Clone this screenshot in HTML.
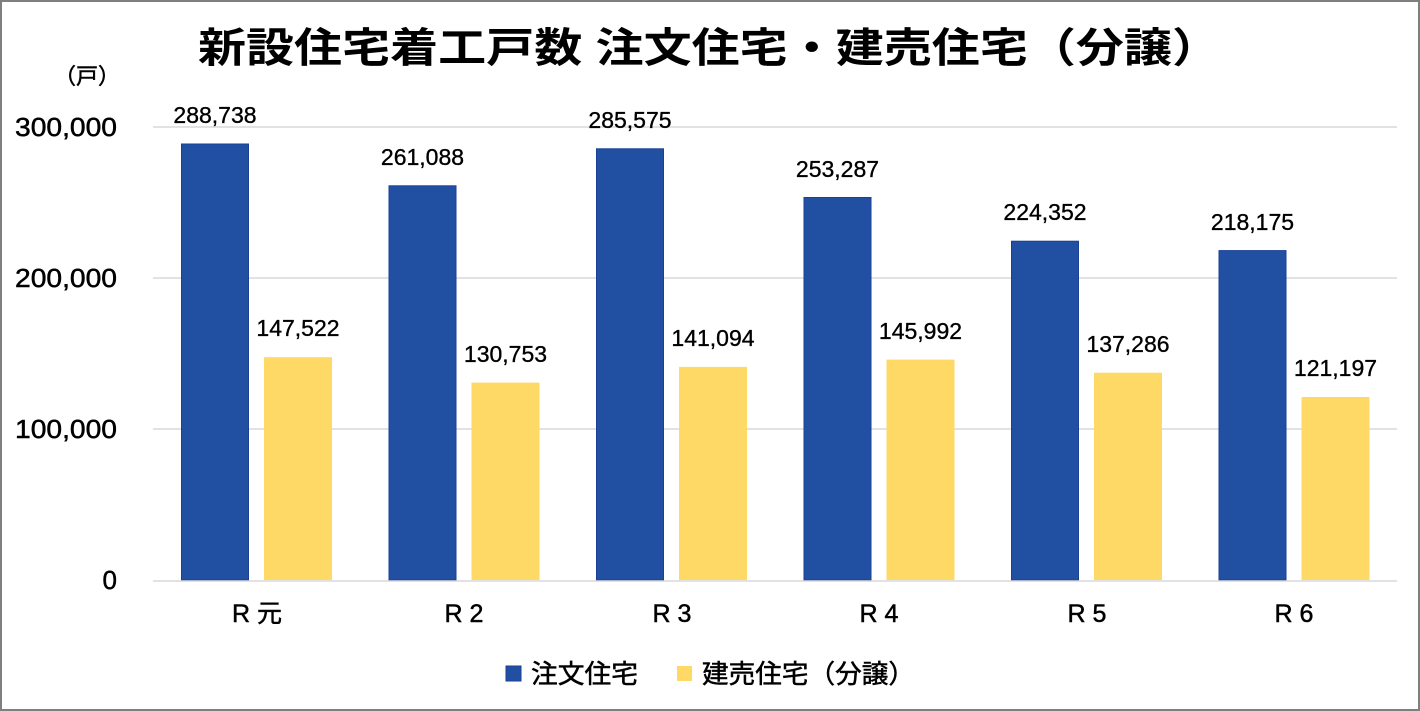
<!DOCTYPE html>
<html><head><meta charset="utf-8"><style>
html,body{margin:0;padding:0;background:#fff}
svg{display:block}
text{font-family:"Liberation Sans","Noto Sans CJK JP",sans-serif;fill:#000}
.t{stroke:#000;stroke-width:0.5}
</style></head><body>
<svg width="1420" height="711" viewBox="0 0 1420 711" xmlns="http://www.w3.org/2000/svg">
<rect x="1" y="1" width="1418" height="709" fill="#fff" stroke="#7f7f7f" stroke-width="2"/>
<text x="709" y="62" font-size="41" font-weight="bold" text-anchor="middle" textLength="1022" lengthAdjust="spacingAndGlyphs">新設住宅着工戸数 注文住宅・建売住宅（分譲）</text>
<text x="120" y="84" font-size="22" text-anchor="end" class="t">（戸）</text>
<g stroke="#d9d9d9" stroke-width="1.5">
<line x1="153" y1="127" x2="1397" y2="127"/>
<line x1="153" y1="278" x2="1397" y2="278"/>
<line x1="153" y1="429" x2="1397" y2="429"/>
</g>
<g font-size="26" text-anchor="end" class="t">
<text x="117" y="136" textLength="102" lengthAdjust="spacingAndGlyphs">300,000</text>
<text x="117" y="287" textLength="102" lengthAdjust="spacingAndGlyphs">200,000</text>
<text x="117" y="438" textLength="102" lengthAdjust="spacingAndGlyphs">100,000</text>
<text x="117" y="589">0</text>
</g>
<g fill="#2150A3" stroke="#1a3f99" stroke-width="1">
<rect x="181.5" y="144" width="67" height="436"/>
<rect x="389" y="185.8" width="67" height="394.2"/>
<rect x="596.5" y="148.8" width="67" height="431.2"/>
<rect x="804" y="197.5" width="67" height="382.5"/>
<rect x="1011.5" y="241.2" width="67" height="338.8"/>
<rect x="1219" y="250.6" width="67" height="329.4"/>
</g>
<g fill="#FFD966">
<rect x="264" y="357.2" width="68" height="222.8"/>
<rect x="471.5" y="382.6" width="68" height="197.4"/>
<rect x="679" y="366.9" width="68" height="213.1"/>
<rect x="886.5" y="359.6" width="68" height="220.4"/>
<rect x="1094" y="372.7" width="68" height="207.3"/>
<rect x="1301.5" y="397" width="68" height="183"/>
</g>
<line x1="153" y1="581" x2="1397" y2="581" stroke="#d9d9d9" stroke-width="1.5"/>
<g font-size="23" text-anchor="middle" class="t" style="stroke-width:0.35">
<text x="215" y="123">288,738</text>
<text x="422.5" y="165">261,088</text>
<text x="630" y="128">285,575</text>
<text x="837.5" y="177">253,287</text>
<text x="1045" y="220">224,352</text>
<text x="1252.5" y="230">218,175</text>
<text x="298" y="336">147,522</text>
<text x="505.5" y="362">130,753</text>
<text x="713" y="346">141,094</text>
<text x="920.5" y="339">145,992</text>
<text x="1128" y="352">137,286</text>
<text x="1335.5" y="376">121,197</text>
</g>
<g font-size="25" text-anchor="middle" class="t">
<text x="257" y="622">R 元</text>
<text x="464" y="622">R 2</text>
<text x="672" y="622">R 3</text>
<text x="879" y="622">R 4</text>
<text x="1087" y="622">R 5</text>
<text x="1294" y="622">R 6</text>
</g>
<rect x="506" y="666" width="15" height="15" fill="#2150A3" stroke="#1a3f99"/>
<text x="531" y="683" font-size="26" class="t" textLength="107" lengthAdjust="spacingAndGlyphs">注文住宅</text>
<rect x="677" y="666" width="15" height="15" fill="#FFD966"/>
<text x="702" y="683" font-size="26" class="t" textLength="213" lengthAdjust="spacingAndGlyphs">建売住宅（分譲）</text>
</svg>
</body></html>
